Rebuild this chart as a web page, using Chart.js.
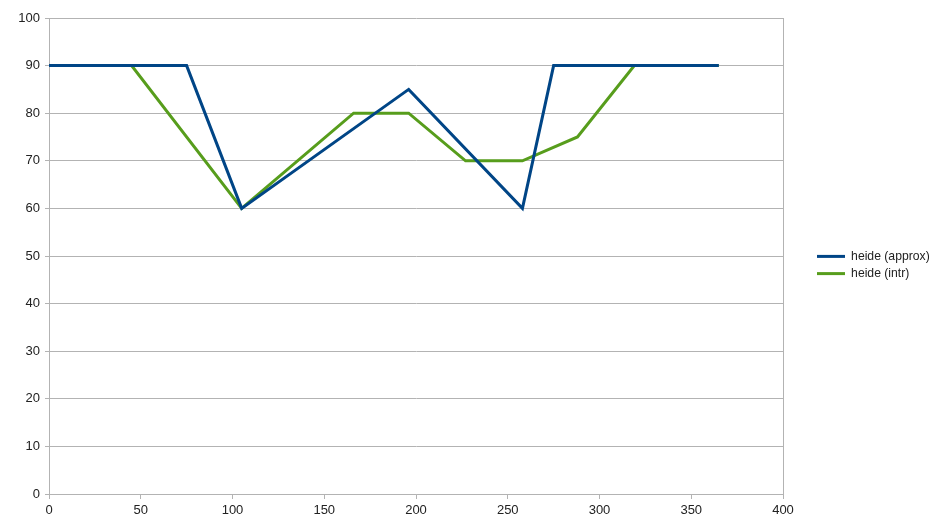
<!DOCTYPE html>
<html>
<head>
<meta charset="utf-8">
<script src="https://cdn.jsdelivr.net/npm/chart.js@4.4.1/dist/chart.umd.min.js"></script>
<style>
  html, body { margin: 0; padding: 0; background: #fff; }
  #wrap { width: 943px; height: 530px; }
</style>
</head>
<body>
<div id="wrap"><canvas id="chart" width="943" height="530"></canvas></div>
<script>
// heide (approx)
const approxX = [0, 75, 105, 196, 258, 275, 365];
const approxY = [90, 90, 60, 85, 60, 90, 90];
// heide (intr)
const intrX = [0, 45, 105, 166, 196, 227, 258, 288, 319, 365];
const intrY = [90, 90, 60, 80, 80, 70, 70, 75, 90, 90];

const seriesLabels = ["heide (approx)", "heide (intr)"];
const gridColor = "#b3b3b3";

const toPoints = (xs, ys) => xs.map((x, i) => ({ x, y: ys[i] }));

// legend sits right of the plot, plot area ends at x=783
const legendPlacement = {
  id: "legendPlacement",
  beforeLayout(chart) {
    const lg = chart.legend;
    if (lg && !lg._patched) {
      lg._patched = true;
      const origFit = lg.fit;
      lg.fit = function () {
        origFit.call(this);
        this.width = 943 - 4 - 783;
      };
    }
  },
  afterLayout(chart) {
    const lg = chart.legend;
    const dx = 812 - lg.left;
    lg.left += dx;
    lg.right += dx;
    const dy = 265 - (lg.top + lg.bottom) / 2;
    lg.top += dy;
    lg.bottom += dy;
  },
};

const rightBorder = {
  id: "rightBorder",
  afterDatasetsDraw(chart) {
    const { ctx, chartArea } = chart;
    ctx.save();
    ctx.strokeStyle = gridColor;
    ctx.lineWidth = 1;
    ctx.beginPath();
    ctx.moveTo(Math.round(chartArea.right) + 0.5, chartArea.top);
    ctx.lineTo(Math.round(chartArea.right) + 0.5, chartArea.bottom);
    ctx.stroke();
    ctx.restore();
  },
};

new Chart(document.getElementById("chart"), {
  type: "scatter",
  data: {
    datasets: [
      {
        label: seriesLabels[0],
        data: toPoints(approxX, approxY),
        showLine: true,
        borderColor: "#004586",
        backgroundColor: "#004586",
        borderWidth: 3,
        pointRadius: 0,
        tension: 0,
      },
      {
        label: seriesLabels[1],
        data: toPoints(intrX, intrY),
        showLine: true,
        borderColor: "#579d1c",
        backgroundColor: "#579d1c",
        borderWidth: 3,
        pointRadius: 0,
        tension: 0,
      },
    ],
  },
  options: {
    responsive: false,
    animation: false,
    layout: { padding: { top: 18, right: 4, bottom: 4, left: 0 } },
    plugins: {
      tooltip: { enabled: false },
      legend: {
        position: "right",
        labels: {
          boxWidth: 28,
          boxHeight: 3,
          padding: 5,
          color: "#222",
          font: { family: "Liberation Sans", size: 12.2 },
          generateLabels(chart) {
            return Chart.defaults.plugins.legend.labels.generateLabels(chart).map((it) => {
              it.lineWidth = 0;
              return it;
            });
          },
        },
      },
    },
    scales: {
      x: {
        type: "linear",
        min: 0,
        max: 400,
        ticks: { stepSize: 50, color: "#222", padding: 4, maxRotation: 0, font: { family: "Liberation Sans", size: 13 } },
        grid: { display: true, drawOnChartArea: false, color: gridColor, tickLength: 5 },
        border: { color: gridColor },
        afterFit: (s) => { s.height = 32; },
      },
      y: {
        min: 0,
        max: 100,
        ticks: { stepSize: 10, color: "#222", padding: 5, font: { family: "Liberation Sans", size: 13 } },
        grid: { color: gridColor, tickLength: 4 },
        border: { color: gridColor },
        afterFit: (s) => { s.width = 49; },
      },
    },
  },
  plugins: [legendPlacement, rightBorder],
});
</script>
</body>
</html>
